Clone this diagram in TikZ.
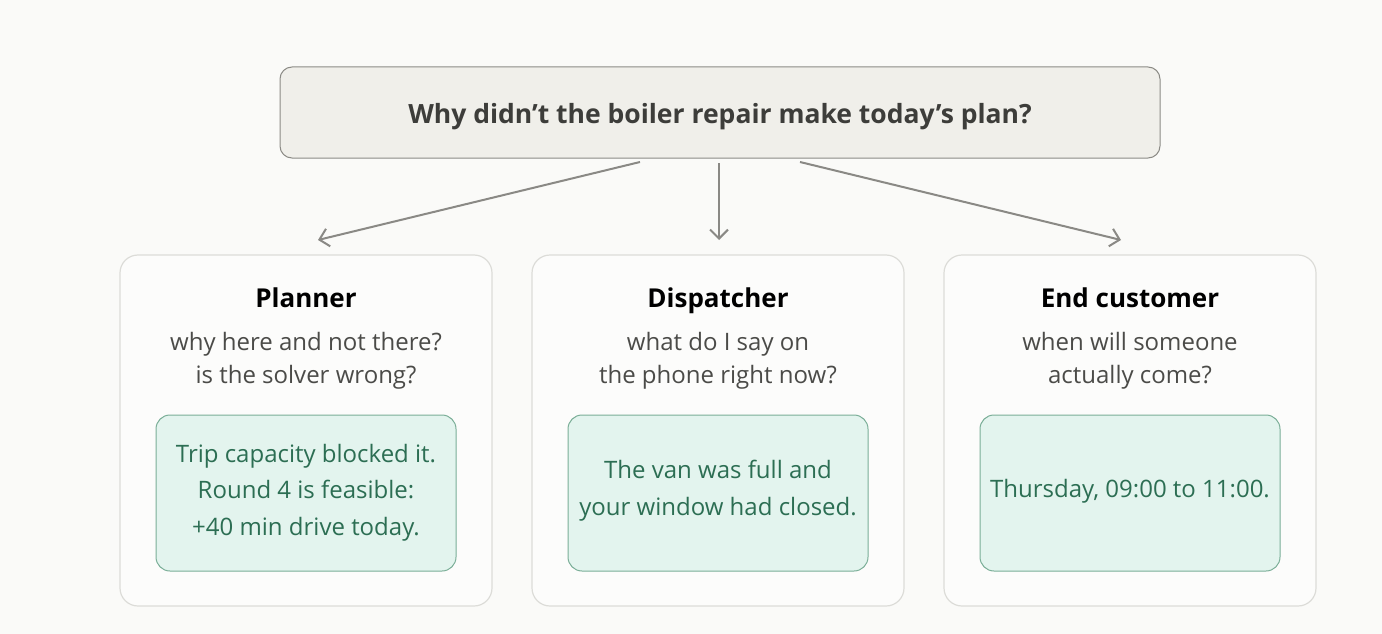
\documentclass[tikz,border=0pt]{standalone}
\usepackage{fontspec}
\setmainfont{Open Sans}
\usepackage{xcolor}
\usetikzlibrary{arrows.meta,positioning}
\definecolor{paper}{HTML}{FAFAF8}
\definecolor{qfill}{HTML}{F0EFEA}
\definecolor{qline}{HTML}{8C8B86}
\definecolor{qtext}{HTML}{3D3D3A}
\definecolor{cardfill}{HTML}{FCFCFB}
\definecolor{cardline}{HTML}{DCDCD8}
\definecolor{subtext}{HTML}{4B4B48}
\definecolor{ansfill}{HTML}{E3F4EE}
\definecolor{ansline}{HTML}{7AAE97}
\definecolor{anstext}{HTML}{2C6E53}
\definecolor{arrline}{HTML}{8A8985}

\begin{document}
\begin{tikzpicture}[
  x=1pt, y=-1pt,
  qbox/.style={draw=qline, fill=qfill, rounded corners=12pt, line width=1pt, minimum width=880pt, minimum height=91pt},
  qlabel/.style={anchor=base, font=\fontsize{26.5}{30}\selectfont\bfseries, text=qtext},
  card/.style={draw=cardline, fill=cardfill, rounded corners=18pt, line width=1.2pt, minimum width=372pt, minimum height=351pt},
  head/.style={anchor=base, font=\fontsize{26}{28}\selectfont\bfseries, text=black},
  sub/.style={anchor=base, align=center, font=\fontsize{24}{33}\selectfont, text=subtext},
  ans/.style={draw=ansline, fill=ansfill, rounded corners=14pt, line width=1pt, minimum width=300pt, minimum height=156pt},
  anstxt/.style={anchor=base, align=center, font=\fontsize{24}{36.5}\selectfont, text=anstext},
  arr/.style={draw=arrline, line width=2pt, -{Straight Barb[length=9pt,width=18pt]}}
]
\fill[paper] (0,0) rectangle (1382,634);
\useasboundingbox (0,0) rectangle (1382,634);

% question
\node[qbox] (q) at (720,112.5) {};
\node[qlabel] (qtxt) at (720,124) {Why didn’t the boiler repair make today’s plan?};

% audiences
\node[card] (planner) at (306,430.5) {};
\node[card] (dispatch) at (718,430.5) {};
\node[card] (customer) at (1130,430.5) {};

\node[head] (plannerhead) at (306,307) {Planner};
\node[sub] (plannersub) at (306,383) {why here and not there?\\is the solver wrong?};
\node[ans] (planneransw) at (306,493) {};
\node[anstxt] (plannertxt) at (306,535) {Trip capacity blocked it.\\Round 4 is feasible:\\+40 min drive today.};

\node[head] (dispatchhead) at (718,307) {Dispatcher};
\node[sub] (dispatchsub) at (718,383) {what do I say on\\the phone right now?};
\node[ans] (dispatchansw) at (718,493) {};
\node[anstxt] (dispatchtxt) at (718,515) {The van was full and\\your window had closed.};

\node[head] (customerhead) at (1130,307) {End customer};
\node[sub] (customersub) at (1130,383) {when will someone\\actually come?};
\node[ans] (customeransw) at (1130,493) {};
\node[anstxt] (customertxt) at (1130,497) {Thursday, 09:00 to 11:00.};

% arrows
\coordinate (from1) at (640,162);
\coordinate (from2) at (719,163);
\coordinate (from3) at (800,162);
\coordinate (to1) at (318,240);
\coordinate (to2) at (719,240);
\coordinate (to3) at (1121,240);
\draw[arr] (from1) -- (to1);
\draw[arr] (from2) -- (to2);
\draw[arr] (from3) -- (to3);
\end{tikzpicture}
\end{document}
